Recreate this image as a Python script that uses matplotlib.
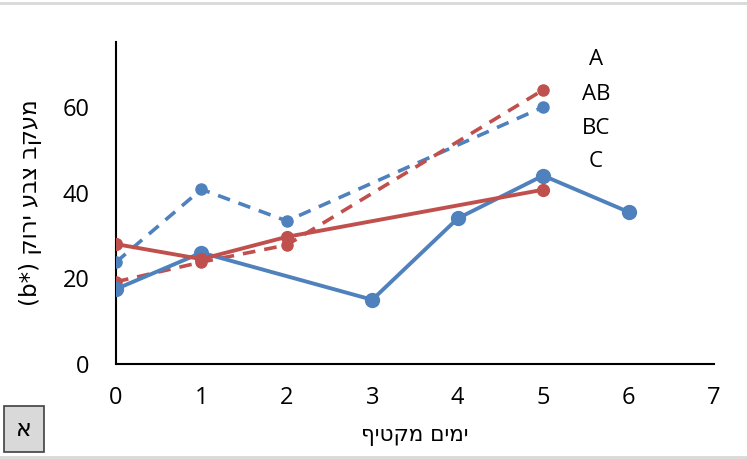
import matplotlib
matplotlib.use("Agg")
import matplotlib.pyplot as plt
from matplotlib.patches import Rectangle
from matplotlib.lines import Line2D

plt.rcParams['font.family'] = ['Open Sans', 'DejaVu Sans']

blue = '#4f81bd'
red = '#c0504d'

x_blue_solid = [0, 1, 3, 4, 5, 6]
y_blue_solid = [17.5, 26.0, 15.0, 34.0, 44.0, 35.5]
x_red_solid = [0, 1, 2, 5]
y_red_solid = [28.0, 24.5, 29.7, 40.7]
x_blue_dash = [0, 1, 2, 5]
y_blue_dash = [23.8, 40.8, 33.4, 60.0]
x_red_dash = [0, 1, 2, 5]
y_red_dash = [19.2, 23.8, 27.8, 64.0]

letters = ['A', 'AB', 'BC', 'C']
letter_y = [71.0, 63.0, 55.1, 47.2]
letter_x = 5.62

xticks = [0, 1, 2, 3, 4, 5, 6, 7]
yticks = [0, 20, 40, 60]

xlabel = 'ימים מקטיף'[::-1]
ylabel = '(b*) ' + 'מעקב צבע ירוק'[::-1]
panel = 'א'

fig = plt.figure(figsize=(7.47, 4.59), dpi=100)
ax = fig.add_axes([116/747, 1-364/459, (714-116)/747, (364-42)/459])

ax.plot(x_blue_dash, y_blue_dash, color=blue, lw=2.6, ls=(0, (3.5, 2.5)),
        marker='o', ms=8, zorder=3)
ax.plot(x_red_dash, y_red_dash, color=red, lw=2.6, ls=(0, (3.5, 2.5)),
        marker='o', ms=8, zorder=3)
ax.plot(x_blue_solid, y_blue_solid, color=blue, lw=2.8,
        marker='o', ms=10, zorder=4)
ax.plot(x_red_solid, y_red_solid, color=red, lw=2.8,
        marker='o', ms=8.5, zorder=5)

for t, yy in zip(letters, letter_y):
    ax.text(letter_x, yy, t, fontsize=16, ha='center', va='center')

ax.set_xlim(0, 7)
ax.set_ylim(0, 75.2)
ax.set_xticks(xticks)
ax.set_yticks(yticks)
ax.tick_params(length=0, labelsize=17)
ax.tick_params(axis='x', pad=16)
ax.tick_params(axis='y', pad=19)
for s in ['top', 'right']:
    ax.spines[s].set_visible(False)
for s in ['left', 'bottom']:
    ax.spines[s].set_linewidth(1.5)
    ax.spines[s].set_color('black')

ax.set_xlabel(xlabel, fontsize=15.5, family=['DejaVu Sans'], labelpad=11)
ax.set_ylabel(ylabel, fontsize=16.5, family=['DejaVu Sans'], labelpad=15)

# panel box
fig.patches.append(Rectangle((4/747, 1-452/459), 40/747, 46/459,
                             transform=fig.transFigure, facecolor='#d9d9d9',
                             edgecolor='#404040', lw=1.2))
fig.text(24/747, 1-429/459, panel, fontsize=17, ha='center', va='center',
         family=['DejaVu Sans'])

# light gray frame lines top and bottom
fig.lines.append(Line2D([0, 1], [1-3/459, 1-3/459], transform=fig.transFigure,
                        color='#d9d9d9', lw=2))
fig.lines.append(Line2D([0, 1], [1-457/459, 1-457/459], transform=fig.transFigure,
                        color='#d9d9d9', lw=2))

fig.savefig('out.png', dpi=100)
